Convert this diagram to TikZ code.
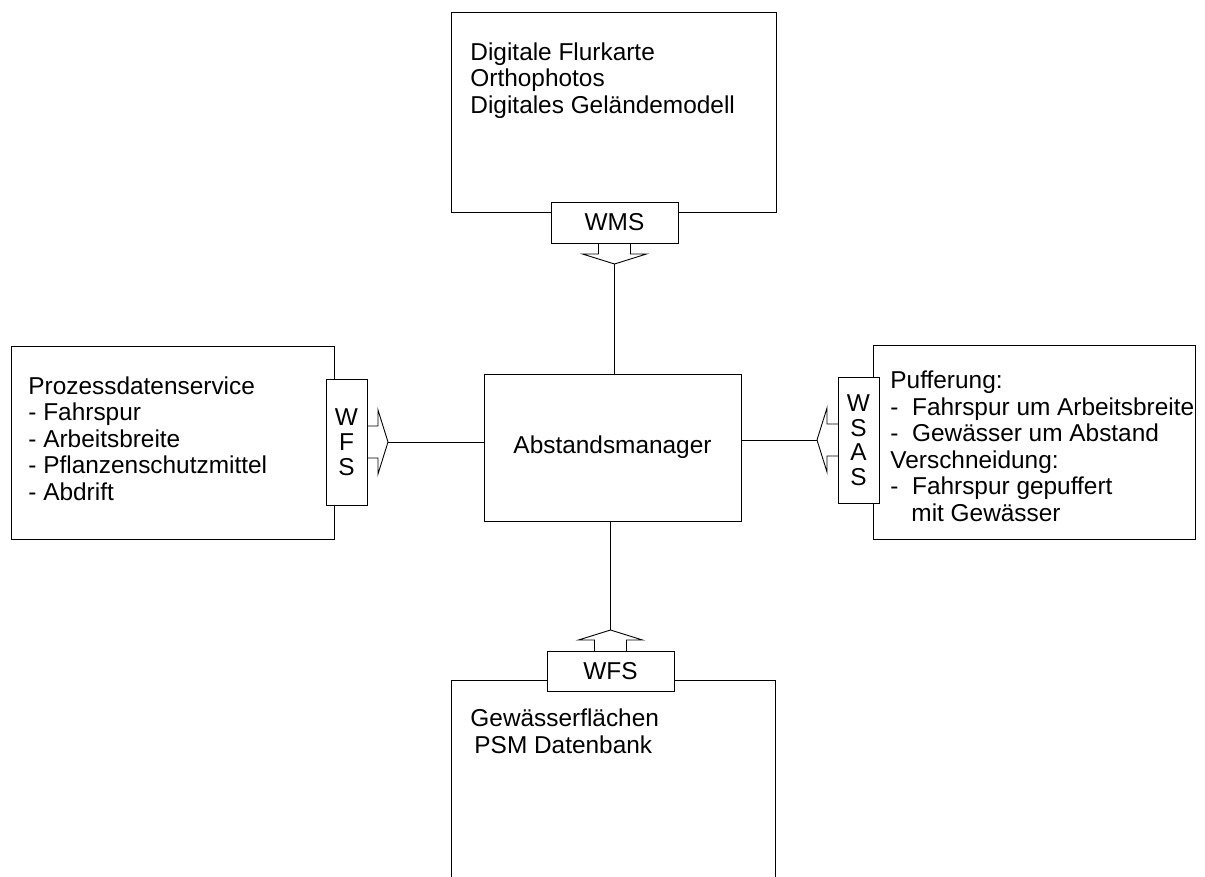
\documentclass[tikz,border=0pt]{standalone}
\usepackage{fontspec}
\setmainfont{Liberation Sans}

% notch and arrow head below a port, turned by #2; #3 names its tip
\newcommand{\portarrow}[3]{%
  \draw[shift={(#1)}, rotate=#2] (-16,0) -- (-16,11) -- (-32,11) -- (0,21) coordinate (#3) -- (32,11) -- (16,11) -- (16,0);
}

\begin{document}
\begin{tikzpicture}[x=1pt, y=-1pt, line width=0.9pt,
  box/.style={draw, rectangle, inner sep=0pt, outer sep=0pt},
  port/.style={draw, fill=white, inner sep=0pt, outer sep=0pt, font=\fontsize{24.4}{25}\selectfont},
  txt/.style={anchor=base west, align=left, inner sep=0pt, font=\fontsize{24.4}{26.5}\selectfont}]
  \useasboundingbox (0,0) rectangle (1205,876);

  % services around the manager
  \node[box, minimum width=325pt, minimum height=200pt] (geo) at (613.5,112) {};
  \node[box, minimum width=323pt, minimum height=193pt] (prozess) at (172.5,442.5) {};
  \node[box, minimum width=322pt, minimum height=194pt] (puffer) at (1034,442) {};
  \node[box, minimum width=324pt, minimum height=215pt] (gewaesser) at (613,787.5) {};  % runs off the bottom
  \node[box, minimum width=257pt, minimum height=147pt, font=\fontsize{24.4}{25}\selectfont] (mgr) at (612.5,447.5) {Abstandsmanager};

  % box contents (base = last line)
  \node[txt] (geotxt) at ([shift={(19,101)}]geo.north west) {Digitale Flurkarte\\Orthophotos\\Digitales Geländemodell};
  \node[txt] (prozesstxt) at ([shift={(17,154)}]prozess.north west) {Prozessdatenservice\\- Fahrspur\\- Arbeitsbreite\\- Pflanzenschutzmittel\\- Abdrift};
  \node[txt] (puffertxt) at ([shift={(17,176)}]puffer.north west) {Pufferung:\\-\ \ Fahrspur um Arbeitsbreite\\-\ \ Gewässer um Abstand\\Verschneidung:\\-\ \ Fahrspur gepuffert\\\hspace{21pt}mit Gewässer};
  \node[txt] (gewaessertxt) at ([shift={(19,73)}]gewaesser.north west) {Gewässerflächen\\\hspace{4pt}PSM Datenbank};

  % interfaces
  \node[port, minimum width=127pt, minimum height=41pt] (wms) at (614.5,222.5) {WMS};
  \node[port, minimum width=41pt, minimum height=126pt, align=center] (wfsl) at (346.5,442) {W\\F\\S};
  \node[port, minimum width=41pt, minimum height=126pt, align=center, font=\fontsize{24.4}{24.5}\selectfont] (wsas) at (858.5,440) {W\\S\\A\\S};
  \node[port, minimum width=127pt, minimum height=40pt] (wfsb) at (610.5,671) {WFS};

  \portarrow{wms.south}{0}{wmstip}
  \portarrow{wfsl.east}{90}{wfsltip}
  \portarrow{wsas.west}{-90}{wsastip}
  \portarrow{wfsb.north}{180}{wfsbtip}

  % connections to the manager
  \draw (wmstip) -- (wmstip |- mgr.north);
  \draw (wfsltip) -- (wfsltip -| mgr.west);
  \draw (wsastip) -- (wsastip -| mgr.east);
  \draw (wfsbtip) -- (wfsbtip |- mgr.south);
\end{tikzpicture}
\end{document}
